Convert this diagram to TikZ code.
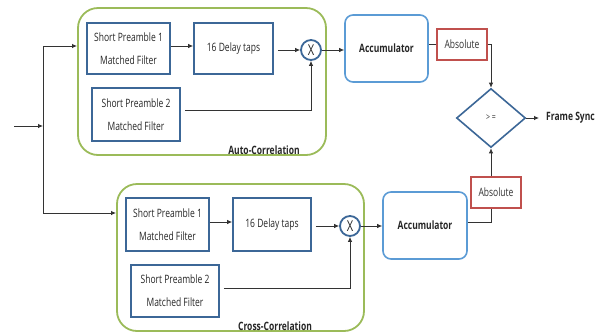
\documentclass[tikz,border=0pt]{standalone}
\usepackage{fontspec}
\newfontfamily\fnt[FakeStretch=0.74]{Open Sans}
\usetikzlibrary{arrows.meta,shapes.geometric}
\definecolor{boxblue}{HTML}{3C6797}
\definecolor{accblue}{HTML}{5B9BD5}
\definecolor{grn}{HTML}{9BBB59}
\definecolor{rd}{HTML}{C0504D}
\definecolor{txt}{HTML}{262626}
\definecolor{ln}{HTML}{333333}
\tikzset{
  sqbox/.style={draw=boxblue, line width=1.8pt, inner sep=0pt, align=center, text=txt,
     font=\fnt\fontsize{11.5}{23}\selectfont},
  accbox/.style={draw=accblue, line width=1.6pt, rounded corners=8pt, inner sep=0pt,
     minimum width=83pt, minimum height=67pt, text=txt, font=\fnt\bfseries\fontsize{11.5}{13}\selectfont},
  absbox/.style={draw=rd, line width=1.6pt, inner sep=0pt, minimum width=50pt,
     minimum height=31pt, text=ln, font=\fnt\fontsize{11.5}{13}\selectfont},
  mult/.style={circle, draw=boxblue, line width=1.8pt, minimum size=20pt, inner sep=0pt,
     text=txt, font=\fnt\fontsize{15}{15}\selectfont},
  grnbox/.style={draw=grn, line width=1.8pt, rounded corners=20pt},
  lbl/.style={text=txt, font=\fnt\bfseries\fontsize{11.5}{13}\selectfont, inner sep=0pt},
  arr/.style={draw=ln, line width=0.8pt, -{Latex[length=5pt,width=4.5pt]}},
  plain/.style={draw=ln, line width=0.8pt},
}
\begin{document}
\begin{tikzpicture}[x=1pt,y=-1pt]
\useasboundingbox (0,0) rectangle (603,333);
% ---------- top group
\draw[grnbox] (78,8) rectangle (326,155);
\node[sqbox, minimum width=83pt, minimum height=51pt] (sp1a) at (128.5,48.5) {Short Preamble 1\\Matched Filter};
\node[sqbox, minimum width=79pt, minimum height=51pt] (dla) at (233.5,48.5) {16 Delay taps};
\node[mult] (xa) at (311,50) {X};
\node[sqbox, minimum width=88pt, minimum height=53pt] (sp2a) at (136,114.5) {Short Preamble 2\\Matched Filter};
\node[lbl] (autol) at (264,150) {Auto-Correlation};
\node[accbox] (acca) at (386.5,48.5) {Accumulator};
\node[absbox] (absa) at (462,44.5) {Absolute};
\node[diamond, draw=boxblue, line width=1.6pt, minimum width=69pt, minimum height=59pt,
      inner sep=0pt, text=ln, font=\fnt\fontsize{9.5}{10}\selectfont] (dia) at (491,118) {> =};
\node[lbl, anchor=west, inner xsep=7pt] (fs) at (539,118) {Frame Sync};
% ---------- bottom group
\draw[grnbox] (117,184) rectangle (364,331);
\node[sqbox, minimum width=83pt, minimum height=53pt] (sp1b) at (167.5,224.5) {Short Preamble 1\\Matched Filter};
\node[sqbox, minimum width=78pt, minimum height=53pt] (dlb) at (272,224.5) {16 Delay taps};
\node[mult] (xb) at (350,226) {X};
\node[sqbox, minimum width=88pt, minimum height=52pt] (sp2b) at (175,291) {Short Preamble 2\\Matched Filter};
\node[lbl] (crossl) at (275,326) {Cross-Correlation};
\node[accbox, minimum width=84pt] (accb) at (425,225.5) {Accumulator};
\node[absbox] (absb) at (496,192.5) {Absolute};
% ---------- input
\coordinate (in) at (14,126);
\coordinate (jn) at (43,126);
\coordinate (jt) at (43,46);
\coordinate (jb) at (43,213);
\draw[arr] (in) -- (jn);
\draw[plain] (jt) -- (jb);
\draw[arr] (jt) -- (jt -| 77,0);
\draw[arr] (jb) -- (jb -| 116,0);
% ---------- top connectors
\draw[arr] ([yshift=2.5pt]sp1a.east) -- ([yshift=2.5pt]dla.west);
\draw[arr, shorten <=4pt] (xa.west -| dla.east) -- (xa.west);
\draw[arr, shorten <=4pt] ([yshift=4.5pt]sp2a.east) -| (xa.south);
\draw[arr] (xa.east) -- (xa.east -| acca.west);
\draw[plain] (absa.west -| acca.east) -- (absa.west);
\draw[arr] (absa.east) -| (dia.north);
\draw[arr] (dia.east) -- (fs.west);
% ---------- bottom connectors
\draw[arr] ([yshift=2.5pt]sp1b.east) -- ([yshift=2.5pt]dlb.west);
\draw[arr, shorten <=4pt] (xb.west -| dlb.east) -- (xb.west);
\draw[arr, shorten <=4pt] ([yshift=3pt]sp2b.east) -| (xb.south);
\draw[arr] (xb.east) -- (xb.east -| accb.west);
\draw[plain] ([yshift=3.5pt]accb.east) -| (dia.south |- absb.south);
\draw[arr] (dia.south |- absb.north) -- (dia.south);
\end{tikzpicture}
\end{document}
